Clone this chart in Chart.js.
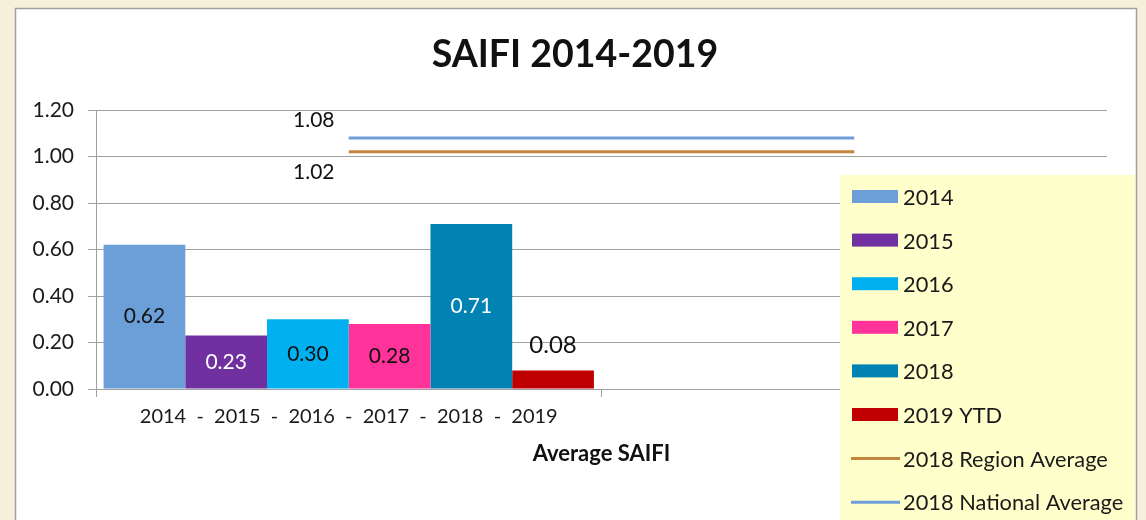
<!DOCTYPE html>
<html>
<head>
<meta charset="utf-8">
<script src="https://cdn.jsdelivr.net/npm/chart.js@4/dist/chart.umd.min.js"></script>
<style>
  html, body { margin: 0; padding: 0; background: #F7EFDA; }
  #wrap { width: 1146px; height: 520px; position: relative; }
</style>
</head>
<body>
<div id="wrap"><canvas id="c" width="1146" height="520"></canvas></div>
<script>
// ---- data ----
const categories = ["2014  -  2015  -  2016  -  2017  -  2018  -  2019", ""];
const seriesNames = ["2014", "2015", "2016", "2017", "2018", "2019 YTD"];
const seriesValues = [0.62, 0.23, 0.30, 0.28, 0.71, 0.08];
const regionAvgName = "2018 Region Average";
const regionAvg = [1.02, 1.02];
const nationalAvgName = "2018 National Average";
const nationalAvg = [1.08, 1.08];
const yTicks = [0, 0.2, 0.4, 0.6, 0.8, 1.0, 1.2];
const chartTitle = "SAIFI 2014-2019";
const xTitle = "Average SAIFI";

// ---- styles ----
const FONT = "Lato, 'Open Sans', sans-serif";
const barColors = ["#6C9FD8", "#7030A0", "#00B0F0", "#FF3399", "#0083B3", "#C00000"];
const labelColors = ["#111111", "#FFFFFF", "#111111", "#111111", "#FFFFFF", "#111111"];
const regionColor = "#C4863C";
const nationalColor = "#6F9FDB";

const datasets = seriesNames.map((name, i) => ({
  type: 'bar',
  label: name,
  data: [seriesValues[i], null],
  backgroundColor: barColors[i],
  borderWidth: 0,
  barPercentage: 1.0,
  categoryPercentage: 0.97,
  labelColor: labelColors[i]
}));
datasets.push({
  type: 'line', label: regionAvgName, data: regionAvg,
  borderColor: regionColor, backgroundColor: regionColor, borderWidth: 3,
  pointRadius: 0, fill: false, labelOffsetY: 20
});
datasets.push({
  type: 'line', label: nationalAvgName, data: nationalAvg,
  borderColor: nationalColor, backgroundColor: nationalColor, borderWidth: 3,
  pointRadius: 0, fill: false, labelOffsetY: -18
});

const frame = {
  id: 'frame',
  beforeDraw(chart) {
    const ctx = chart.ctx;
    ctx.save();
    ctx.fillStyle = "#F7EFDA";
    ctx.fillRect(0, 0, chart.width, chart.height);
    ctx.fillStyle = "#FFFFFF";
    ctx.fillRect(15, 8, 1121, 530);
    ctx.strokeStyle = "#A0A0A0";
    ctx.lineWidth = 1.5;
    ctx.strokeRect(15.5, 8.5, 1121, 530);
    // title
    ctx.fillStyle = "#111111";
    ctx.font = "bold 37.5px " + FONT;
    ctx.textAlign = "center";
    ctx.textBaseline = "middle";
    ctx.fillText(chartTitle, 575, 55);
    ctx.restore();
  }
};

const labelsPlugin = {
  id: 'labels',
  afterDatasetsDraw(chart) {
    const ctx = chart.ctx;
    ctx.save();
    ctx.textAlign = "center";
    ctx.textBaseline = "middle";
    chart.data.datasets.forEach((ds, di) => {
      const meta = chart.getDatasetMeta(di);
      const el = meta.data[0];
      if (!el) return;
      const v = ds.data[0];
      if (ds.type === 'bar') {
        const h = el.base - el.y;
        let y = (el.y + el.base) / 2;
        let color = ds.labelColor;
        ctx.font = "21px " + FONT;
        if (h < 30) { y = el.y - 25; color = "#111111"; ctx.font = "24px " + FONT; }
        ctx.fillStyle = color;
        ctx.fillText(v.toFixed(2), el.x, y);
      } else {
        ctx.font = "21px " + FONT;
        ctx.fillStyle = "#111111";
        ctx.fillText(v.toFixed(2), el.x - 35, el.y + ds.labelOffsetY);
      }
    });
    ctx.restore();
  }
};

const legendPlugin = {
  id: 'customLegend',
  afterDraw(chart) {
    const ctx = chart.ctx;
    ctx.save();
    ctx.fillStyle = "#FFFFCC";
    ctx.fillRect(840, 175, 295, 350);
    ctx.font = "21.8px " + FONT;
    ctx.textAlign = "left";
    ctx.textBaseline = "middle";
    chart.data.datasets.forEach((ds, i) => {
      const y = 197 + i * 43.6;
      if (ds.type === 'bar') {
        ctx.fillStyle = ds.backgroundColor;
        ctx.fillRect(852, y - 7, 46, 13);
      } else {
        ctx.strokeStyle = ds.borderColor;
        ctx.lineWidth = 3;
        ctx.beginPath();
        ctx.moveTo(851, y);
        ctx.lineTo(900, y);
        ctx.stroke();
      }
      ctx.fillStyle = "#1A1A1A";
      ctx.fillText(ds.label, 903, y + 1);
    });
    ctx.restore();
  }
};

new Chart(document.getElementById('c'), {
  type: 'bar',
  data: { labels: categories, datasets },
  plugins: [frame, labelsPlugin, legendPlugin],
  options: {
    responsive: false,
    animation: false,
    layout: { padding: { left: 20, right: 39, top: 110, bottom: 49 } },
    plugins: { legend: { display: false }, title: { display: false }, tooltip: { enabled: false } },
    scales: {
      x: {
        grid: { display: true, drawOnChartArea: false, drawTicks: true, tickLength: 8, color: "#A0A0A0", offset: true },
        border: { display: true, color: "#A0A0A0", width: 1 },
        ticks: { color: "#1A1A1A", font: { family: FONT, size: 20 }, padding: 8, maxRotation: 0, autoSkip: false },
        title: { display: true, text: xTitle, color: "#111111", font: { family: FONT, size: 22, weight: 'bold' }, padding: { top: 0, bottom: 4 } },
        afterFit(scale) { scale.height = 82; }
      },
      y: {
        min: 0, max: 1.2,
        afterBuildTicks(scale) { scale.ticks = yTicks.map(v => ({ value: v })); },
        grid: { color: "#A0A0A0", lineWidth: 1, tickLength: 8, drawTicks: true },
        border: { display: true, color: "#A0A0A0", width: 1 },
        ticks: { color: "#1A1A1A", font: { family: FONT, size: 21 }, padding: 14, callback: v => Number(v).toFixed(2) },
        afterFit(scale) { scale.width = 76; }
      }
    }
  }
});
</script>
</body>
</html>
